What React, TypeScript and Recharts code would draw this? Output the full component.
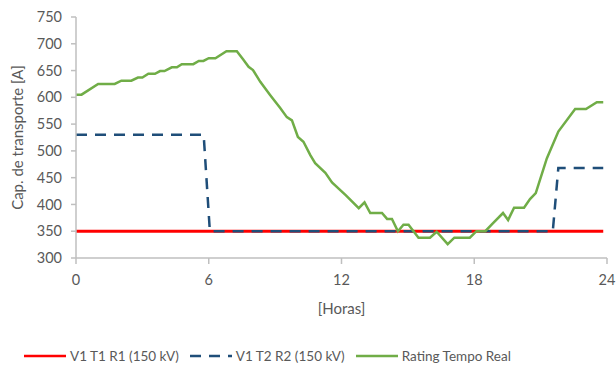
import React from 'react';
import { LineChart, Line, XAxis, YAxis } from 'recharts';

const hourTicks = [0, 6, 12, 18, 24];
const ampTicks = [300, 350, 400, 450, 500, 550, 600, 650, 700, 750];

const t1Hours = [0, 23.83];
const t1Amps = [350, 350];

const t2Hours = [0, 5.77, 6.05, 21.55, 21.8, 23.83];
const t2Amps = [530, 530, 350, 350, 468, 468];

const ratingHours = [
  0, 0.25, 1.0, 1.75, 2.05, 2.5, 2.8, 3.0, 3.27, 3.57, 3.8, 4.0, 4.33, 4.56, 4.78, 5.3,
  5.55, 5.76, 6.0, 6.3, 6.8, 7.27, 7.55, 7.8, 8.0, 8.33, 8.78, 9.23, 9.53, 9.76, 10.03,
  10.28, 10.59, 10.81, 11.27, 11.57, 12.2, 12.78, 13.04, 13.3, 13.83, 14.06, 14.28, 14.55,
  14.8, 15.03, 15.48, 16.0, 16.3, 16.8, 17.1, 17.8, 18.1, 18.5, 18.85, 19.3, 19.53, 19.8,
  20.25, 20.52, 20.78, 21.28, 21.8, 22.56, 23.05, 23.54, 23.83,
];
const ratingAmps = [
  605, 605, 625, 625, 631, 631, 637, 637, 644, 644, 649, 649, 656, 656, 662, 662,
  668, 668, 673, 673, 686, 686, 671, 657, 651, 629, 604, 580, 563, 557, 526,
  517, 492, 477, 459, 441, 417, 393, 404, 384, 384, 373, 373, 350,
  362, 362, 338, 338, 349, 326, 338, 338, 350, 350, 365, 384, 371, 394,
  394, 410, 421, 486, 536, 578, 578, 591, 591,
];

const zip = (hs: number[], as: number[]) => hs.map((h, i) => ({ h, a: as[i] }));

const t1Data = zip(t1Hours, t1Amps);
const t2Data = zip(t2Hours, t2Amps);
const ratingData = zip(ratingHours, ratingAmps);

const FONT = 'Lato, "Open Sans", sans-serif';
const TEXT = '#595959';
const AXIS = '#BFBFBF';

const legendItems = [
  { name: 'V1 T1 R1 (150 kV)', color: '#FF0000', dash: undefined as string | undefined },
  { name: 'V1 T2 R2 (150 kV)', color: '#1F4E79', dash: '11 8' },
  { name: 'Rating Tempo Real', color: '#70AD47', dash: undefined },
];

// rotated y-axis title, centred on the plot height
const YTitle = (props: any) => {
  const vb = props.viewBox || {};
  const cx = (vb.x || 0) + 17;
  const cy = (vb.y || 0) + (vb.height || 0) / 2;
  return (
    <text
      x={cx}
      y={cy}
      transform={`rotate(-90 ${cx} ${cy})`}
      textAnchor="middle"
      dominantBaseline="central"
      fill={TEXT}
      fontSize={15}
      fontFamily={FONT}
    >
      Cap. de transporte [A]
    </text>
  );
};

export default function App() {
  return (
    <div style={{ position: 'relative', width: 616, height: 367, background: '#fff', fontFamily: FONT }}>
      <style>{'body{margin:0}'}</style>
      <LineChart width={616} height={367} margin={{ top: 17, right: 9, left: 0, bottom: 49 }}>
        <XAxis
          dataKey="h"
          type="number"
          domain={[0, 24]}
          ticks={hourTicks}
          allowDuplicatedCategory={false}
          stroke={AXIS}
          strokeWidth={1.5}
          tickSize={6}
          tickMargin={11}
          height={60}
          tick={{ fill: TEXT, fontSize: 14.5, fontFamily: FONT }}
          label={{ value: '[Horas]', position: 'insideBottom', offset: 4, fill: TEXT, fontSize: 15, fontFamily: FONT }}
        />
        <YAxis
          type="number"
          domain={[300, 750]}
          ticks={ampTicks}
          interval={0}
          width={76}
          stroke={AXIS}
          strokeWidth={1.5}
          tickSize={5}
          tickMargin={9}
          tick={{ fill: TEXT, fontSize: 14.5, fontFamily: FONT }}
          label={<YTitle />}
        />
        <Line data={t1Data} dataKey="a" stroke="#FF0000" strokeWidth={3} dot={false} isAnimationActive={false} />
        <Line data={t2Data} dataKey="a" stroke="#1F4E79" strokeWidth={2.5} strokeDasharray="11 8" dot={false} isAnimationActive={false} />
        <Line data={ratingData} dataKey="a" stroke="#70AD47" strokeWidth={2.5} dot={false} isAnimationActive={false} />
      </LineChart>
      <div style={{ position: 'absolute', left: 24, top: 348, display: 'flex', alignItems: 'center', fontSize: 13.5, color: TEXT }}>
        {legendItems.map((it) => (
          <div key={it.name} style={{ display: 'flex', alignItems: 'center', marginRight: 11 }}>
            <svg width={42} height={6} style={{ marginRight: 4 }}>
              <line x1={0} y1={3} x2={42} y2={3} stroke={it.color} strokeWidth={2.5} strokeDasharray={it.dash} />
            </svg>
            <span>{it.name}</span>
          </div>
        ))}
      </div>
    </div>
  );
}
